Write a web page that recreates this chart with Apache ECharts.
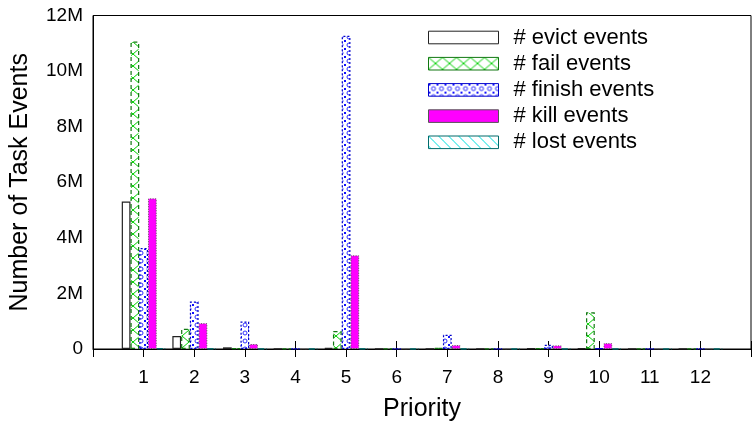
<!DOCTYPE html>
<html>
<head>
<meta charset="utf-8">
<script src="https://cdn.jsdelivr.net/npm/echarts@6/dist/echarts.min.js"></script>
<style>html,body{margin:0;padding:0;background:#fff}#c{width:754px;height:427px}</style>
</head>
<body>
<div id="c"></div>
<script>
// Priorities (tick labels) 1..12; values in millions of task events
const priorities = ['1','2','3','4','5','6','7','8','9','10','11','12'];
const evictEvents  = [5.31, 0.47, 0.06, 0.005, 0.04, 0.005, 0.01, 0.005, 0.02, 0.03, 0.005, 0.005];
const failEvents   = [11.06, 0.73, 0.02, 0.005, 0.65, 0.005, 0.04, 0.005, 0.03, 1.32, 0.01, 0.005];
const finishEvents = [3.63, 1.71, 0.99, 0.01, 11.27, 0.01, 0.51, 0.01, 0.15, 0.03, 0.01, 0.01];
const killEvents   = [5.42, 0.93, 0.18, 0.005, 3.37, 0.005, 0.14, 0.005, 0.13, 0.21, 0.005, 0.005];
const lostEvents   = [0.02, 0.01, 0.005, 0.002, 0.01, 0.002, 0.005, 0.002, 0.005, 0.005, 0.002, 0.002];
const yTicks = [0, 2, 4, 6, 8, 10, 12];

// x range runs 0..13 with priorities at 1..12
const cats = [''].concat(priorities, ['']);
const pad = a => [null].concat(a, [null]);

function makePattern(w, h, draw) {
  const c = document.createElement('canvas');
  c.width = w; c.height = h;
  const g = c.getContext('2d');
  g.fillStyle = '#fff'; g.fillRect(0, 0, w, h);
  draw(g);
  return { image: c, repeat: 'repeat' };
}
const failPat = makePattern(14, 12, g => {
  g.strokeStyle = '#00d000'; g.lineWidth = 1;
  g.beginPath(); g.moveTo(0, 0); g.lineTo(14, 12); g.moveTo(14, 0); g.lineTo(0, 12); g.stroke();
});
const finishPat = makePattern(8, 8, g => {
  g.fillStyle = '#1010ff';
  g.fillRect(0, 0, 2, 2);
  g.strokeStyle = '#3030ff'; g.lineWidth = 1;
  g.beginPath(); g.arc(5, 5, 2, 0, Math.PI * 2); g.stroke();
});
const lostPat = makePattern(10, 10, g => {
  g.strokeStyle = '#00e0e0'; g.lineWidth = 1;
  g.beginPath(); g.moveTo(0, 0); g.lineTo(10, 10); g.moveTo(-5, 5); g.lineTo(5, 15); g.moveTo(5, -5); g.lineTo(15, 5); g.stroke();
});

const FONT = 'Liberation Sans';
const tickStyle = { inside: true, length: 8, lineStyle: { color: '#000', width: 1 } };

const option = {
  animation: false,
  textStyle: { fontFamily: FONT, color: '#000' },
  grid: { left: 91.85, right: -6.2, top: 15.5, bottom: 77, show: true, borderColor: '#000', borderWidth: 1, backgroundColor: 'transparent' },
  legend: {
    orient: 'vertical', left: 428, top: 26.5, padding: 0,
    itemWidth: 70, itemHeight: 12.6, itemGap: 4.2,
    icon: 'rect',
    itemStyle: { borderWidth: 1 },
    textStyle: { fontFamily: FONT, fontSize: 22, color: '#000', padding: [0, 0, 0, 10] },
    data: ['# evict events', '# fail events', '# finish events', '# kill events', '# lost events']
  },
  xAxis: [
    {
      type: 'category', data: cats, boundaryGap: false, position: 'bottom',
      axisLine: { show: true, lineStyle: { color: '#000', width: 1 } },
      axisTick: tickStyle,
      axisLabel: { interval: 0, fontFamily: FONT, fontSize: 19, color: '#000', margin: 19 },
      name: 'Priority', nameLocation: 'middle', nameGap: 48,
      nameTextStyle: { fontFamily: FONT, fontSize: 25, color: '#000' }
    },
    {
      type: 'category', data: cats, boundaryGap: false, position: 'top',
      axisLine: { show: false }, axisTick: tickStyle, axisLabel: { show: false }
    }
  ],
  yAxis: [
    {
      type: 'value', min: 0, max: 12, interval: 2, position: 'left',
      axisLine: { show: true, lineStyle: { color: '#000', width: 1 } },
      axisTick: tickStyle, splitLine: { show: false },
      axisLabel: { fontFamily: FONT, fontSize: 19, color: '#000', margin: 10,
        formatter: v => (yTicks.indexOf(v) >= 0 ? (v === 0 ? '0' : v + 'M') : '') },
      name: 'Number of Task Events', nameLocation: 'middle', nameGap: 60,
      nameTextStyle: { fontFamily: FONT, fontSize: 25, color: '#000' }
    },
    {
      type: 'value', min: 0, max: 12, interval: 2, position: 'right',
      axisLine: { show: false }, axisTick: tickStyle, splitLine: { show: false }, axisLabel: { show: false }
    }
  ],
  series: [
    { name: '# evict events', type: 'bar', data: pad(evictEvents), barGap: '0%', barWidth: 8.75,
      itemStyle: { color: '#fff', borderColor: '#222', borderWidth: 1.2 } },
    { name: '# fail events', type: 'bar', data: pad(failEvents), barGap: '0%', barWidth: 8.75,
      itemStyle: { color: failPat, borderColor: '#117711', borderWidth: 1.2, borderType: [4, 3] } },
    { name: '# finish events', type: 'bar', data: pad(finishEvents), barGap: '0%', barWidth: 8.75,
      itemStyle: { color: finishPat, borderColor: '#0000cc', borderWidth: 1.2, borderType: [2, 2] } },
    { name: '# kill events', type: 'bar', data: pad(killEvents), barGap: '0%', barWidth: 8.75,
      itemStyle: { color: '#ff00ff', borderColor: '#555', borderWidth: 1, borderType: [1, 1.5] } },
    { name: '# lost events', type: 'bar', data: pad(lostEvents), barGap: '0%', barWidth: 8.75,
      itemStyle: { color: lostPat, borderColor: '#006b6b', borderWidth: 1, borderType: [6, 2, 1, 2] } }
  ]
};
const chart = echarts.init(document.getElementById('c'), null, { renderer: 'canvas' });
chart.setOption(option);
</script>
</body>
</html>
